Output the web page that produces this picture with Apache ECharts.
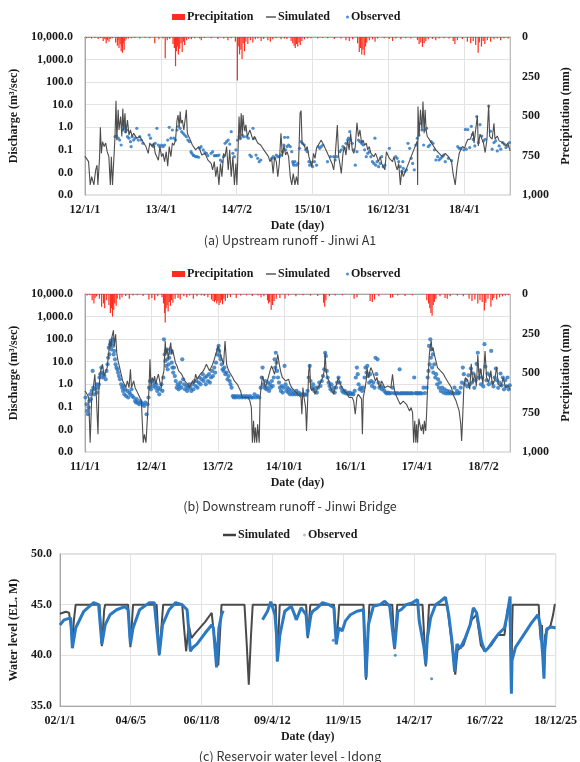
<!DOCTYPE html>
<html><head><meta charset="utf-8">
<script src="https://cdn.jsdelivr.net/npm/echarts@6/dist/echarts.min.js"></script>
<style>html,body{margin:0;padding:0;background:#fff}#c{width:580px;height:762px}</style>
</head><body><div id="c"></div>
<script>
// ---------- Panel (a) Upstream runoff - Jinwi A1 (x = days since 2012-01-01) ----------
const xLabelsA = ['12/1/1','13/4/1','14/7/2','15/10/1','16/12/31','18/4/1'];
const simA = [[0,0.053],[22,0.03],[32,0.0028],[41,0.0065],[54,0.0028],[65,0.013],[73,0.021],[78,0.0028],[88,0.042],[93,1.0],[99,0.07],[106,0.23],[116,0.14],[125,0.2],[134,0.083],[144,0.05],[153,0.0028],[159,0.05],[166,0.0028],[175,0.0028],[181,0.39],[187,15],[192,0.27],[200,5.9],[205,0.76],[215,3.0],[222,0.39],[228,6.7],[233,0.76],[241,4.2],[246,0.54],[256,2.1],[265,0.45],[274,0.76],[284,0.39],[293,0.54],[312,0.33],[330,0.39],[349,0.23],[367,0.14],[381,0.07],[390,0.2],[405,0.14],[414,0.2],[423,0.07],[433,0.083],[442,0.035],[451,0.14],[461,0.05],[470,0.07],[479,0.03],[489,0.083],[498,0.019],[507,0.14],[517,0.05],[526,0.2],[535,0.16],[545,0.27],[554,2.1],[560,3.5],[567,1.07],[573,5.0],[578,1.5],[586,2.1],[595,0.76],[610,5.9],[616,0.54],[629,0.33],[647,0.16],[666,0.1],[684,0.14],[703,0.059],[722,0.07],[740,0.035],[759,0.025],[768,0.013],[778,0.03],[787,0.0065],[796,0.018],[806,0.0028],[815,0.025],[824,0.0065],[834,0.07],[843,0.05],[852,0.14],[862,0.013],[871,0.1],[880,0.0065],[890,0.05],[899,0.0028],[908,0.025],[914,0.0028],[921,0.1],[927,3.0],[933,0.27],[940,4.2],[946,0.39],[951,3.5],[959,0.76],[968,1.27],[977,0.39],[992,0.76],[1011,0.27],[1020,0.39],[1039,0.2],[1058,0.16],[1076,0.1],[1104,0.05],[1113,0.03],[1123,0.042],[1132,0.009],[1141,0.05],[1151,0.03],[1160,0.0065],[1169,0.025],[1179,0.54],[1188,0.05],[1197,0.16],[1207,0.059],[1216,0.083],[1225,0.05],[1235,0.0065],[1244,0.0028],[1253,0.009],[1263,0.0028],[1272,0.0065],[1281,0.0028],[1287,0.0028],[1294,4.2],[1300,5.5],[1306,0.2],[1319,0.16],[1328,0.1],[1337,0.14],[1347,0.05],[1356,0.03],[1365,0.018],[1375,0.07],[1384,0.042],[1393,0.12],[1403,0.16],[1421,0.27],[1440,0.14],[1459,0.07],[1477,0.035],[1486,0.025],[1496,0.013],[1505,0.05],[1518,1.27],[1526,0.05],[1533,0.025],[1542,0.009],[1552,0.07],[1561,0.14],[1570,0.059],[1580,0.27],[1589,0.1],[1598,0.54],[1608,0.1],[1617,0.07],[1626,0.14],[1636,1.6],[1645,0.39],[1654,0.76],[1664,0.2],[1673,0.27],[1682,0.16],[1692,0.2],[1701,0.1],[1710,0.14],[1720,0.07],[1729,0.083],[1738,0.05],[1748,0.07],[1757,0.059],[1766,0.03],[1776,0.05],[1785,0.025],[1794,0.03],[1804,0.013],[1813,0.083],[1822,0.059],[1831,0.042],[1850,0.03],[1859,0.05],[1869,0.021],[1878,0.013],[1887,0.025],[1897,0.0028],[1906,0.013],[1915,0.0065],[1925,0.0055],[1999,0.25],[2001,0.0028],[2003,8.3],[2010,0.39],[2018,5.9],[2027,0.76],[2033,13.8],[2040,0.54],[2046,5.9],[2052,0.76],[2059,0.39],[2074,0.27],[2093,0.16],[2111,0.1],[2130,0.07],[2149,0.05],[2167,0.07],[2186,0.05],[2205,0.03],[2214,0.009],[2227,0.0028],[2238,0.018],[2251,0.07],[2270,0.14],[2283,0.12],[2293,0.2],[2303,0.29],[2318,0.3],[2335,0.67],[2340,0.2],[2360,3.2],[2366,0.15],[2376,0.5],[2387,0.41],[2397,0.2],[2407,0.076],[2418,0.3],[2428,9.7],[2434,0.4],[2449,0.3],[2460,1.5],[2466,0.3],[2480,0.41],[2491,0.25],[2501,0.3],[2512,0.21],[2522,0.25],[2532,0.15],[2543,0.2],[2557,0.09]];
const obsA = [[181,0.385],[190,0.42],[200,0.33],[209,0.27],[218,0.164],[228,0.76],[233,1.27],[237,0.9],[243,0.64],[246,1.07],[252,0.76],[256,0.385],[265,0.33],[274,0.23],[278,0.139],[284,0.385],[293,0.27],[302,0.33],[312,0.9],[321,0.27],[330,0.385],[339,0.27],[349,0.195],[386,0.45],[395,0.33],[405,0.164],[414,0.139],[423,0.195],[433,0.9],[442,0.164],[451,0.139],[461,0.164],[470,0.139],[479,0.164],[498,0.27],[507,1.0],[517,0.33],[526,0.76],[535,0.33],[545,0.27],[554,0.76],[563,1.07],[573,0.9],[582,0.64],[591,0.54],[600,0.45],[610,0.385],[619,0.27],[629,0.23],[638,0.083],[643,0.07],[651,0.059],[656,0.055],[666,0.05],[675,0.05],[684,0.047],[690,0.117],[699,0.139],[712,0.099],[722,0.075],[731,0.07],[740,0.055],[759,0.07],[768,0.083],[778,0.055],[787,0.055],[796,0.055],[806,0.059],[815,0.0355],[824,0.03],[834,0.05],[843,0.195],[852,0.23],[862,0.27],[871,0.18],[880,0.64],[890,0.07],[899,0.05],[908,0.099],[918,0.27],[927,0.385],[936,0.33],[946,0.45],[955,0.385],[964,0.76],[973,0.385],[983,0.33],[992,0.059],[1001,0.05],[1011,0.9],[1020,0.33],[1029,0.059],[1039,0.042],[1048,0.03],[1058,0.0355],[1123,0.042],[1132,0.05],[1141,0.042],[1151,0.059],[1160,0.05],[1169,0.05],[1179,0.059],[1188,0.083],[1197,0.164],[1201,0.36],[1207,0.1],[1216,0.14],[1220,0.36],[1225,0.164],[1235,0.14],[1244,0.083],[1250,0.03],[1253,0.025],[1257,0.021],[1263,0.03],[1272,0.021],[1281,0.025],[1291,0.117],[1300,0.23],[1309,0.195],[1319,0.164],[1328,0.1],[1337,0.083],[1347,0.03],[1352,0.021],[1361,0.027],[1369,0.018],[1380,0.03],[1393,0.021],[1403,0.14],[1412,0.117],[1421,0.14],[1431,0.164],[1459,0.03],[1477,0.05],[1496,0.05],[1505,0.0355],[1514,0.05],[1533,0.083],[1542,0.1],[1552,0.14],[1561,0.117],[1570,0.195],[1580,0.27],[1585,0.33],[1593,0.64],[1598,0.27],[1608,0.195],[1617,0.1],[1626,0.021],[1636,0.083],[1645,0.27],[1654,0.23],[1664,0.195],[1673,0.164],[1682,0.1],[1692,0.05],[1701,0.07],[1710,0.083],[1720,0.05],[1729,0.03],[1738,0.025],[1744,0.33],[1749,0.021],[1757,0.03],[1766,0.018],[1776,0.025],[1785,0.05],[1794,0.018],[1804,0.021],[1831,0.117],[1869,0.05],[1878,0.042],[1887,0.03],[1897,0.018],[1906,0.011],[1912,0.03],[1915,0.015],[1925,0.011],[1934,0.013],[1943,0.195],[1953,0.117],[1962,0.042],[1971,0.025],[1981,0.013],[1990,0.164],[1999,0.33],[2009,0.45],[2018,1.5],[2027,0.76],[2037,0.164],[2046,0.76],[2055,0.9],[2065,0.14],[2074,0.164],[2083,0.23],[2093,0.195],[2102,0.1],[2111,0.0355],[2121,0.05],[2130,0.0355],[2139,0.042],[2149,0.05],[2158,0.059],[2167,0.03],[2186,0.042],[2205,0.033],[2242,0.14],[2251,0.117],[2260,0.117],[2279,0.1],[2288,0.8],[2293,0.107],[2303,0.79],[2314,0.126],[2324,1.1],[2330,0.48],[2335,0.29],[2345,0.15],[2356,3.0],[2366,0.21],[2376,1.3],[2387,0.41],[2397,0.25],[2407,0.29],[2428,8.7],[2439,0.67],[2449,0.107],[2460,0.21],[2470,0.25],[2480,0.09],[2491,0.15],[2501,0.107],[2512,0.21],[2522,0.18],[2532,0.126],[2543,0.15],[2553,0.21]];
const precipA = [[10,8],[25,5],[40,10],[60,6],[80,12],[95,7],[110,25],[120,15],[128,40],[135,20],[145,30],[152,12],[165,8],[185,35],[195,55],[200,20],[205,70],[212,45],[218,90],[222,60],[226,100],[230,40],[236,80],[240,25],[248,15],[262,10],[280,8],[300,6],[330,10],[360,5],[390,8],[420,40],[445,15],[470,10],[483,135],[495,20],[510,12],[530,45],[538,70],[545,185],[550,90],[556,60],[562,110],[570,75],[578,40],[585,95],[592,30],[600,50],[612,20],[625,12],[640,15],[660,8],[690,10],[700,20],[720,6],[760,8],[800,12],[835,10],[860,20],[880,8],[905,30],[917,275],[922,60],[930,110],[938,80],[945,140],[952,40],[960,90],[968,30],[980,45],[995,20],[1010,35],[1025,15],[1040,10],[1060,25],[1075,12],[1100,20],[1115,30],[1130,15],[1150,8],[1180,15],[1200,10],[1215,12],[1240,25],[1250,40],[1258,55],[1265,70],[1272,45],[1280,60],[1288,35],[1295,50],[1305,25],[1320,15],[1340,10],[1360,8],[1400,10],[1430,6],[1460,8],[1500,12],[1540,10],[1570,20],[1590,25],[1610,15],[1640,40],[1650,95],[1658,70],[1665,110],[1672,80],[1680,115],[1688,60],[1695,35],[1710,20],[1730,15],[1745,30],[1760,10],[1800,8],[1830,12],[1850,25],[1870,10],[1900,15],[1930,8],[1960,10],[2000,20],[2010,45],[2020,35],[2030,63],[2040,40],[2050,25],[2065,15],[2090,12],[2110,20],[2130,10],[2160,8],[2190,10],[2215,25],[2225,45],[2240,20],[2270,12],[2300,30],[2320,40],[2335,25],[2350,50],[2365,100],[2372,35],[2385,60],[2395,25],[2405,45],[2420,20],[2440,30],[2460,15],[2480,10],[2500,20],[2520,8],[2545,10]];

// ---------- Panel (b) Downstream runoff - Jinwi Bridge (x = days since 2011-01-01) ----------
const xLabelsB = ['11/1/1','12/4/1','13/7/2','14/10/1','16/1/1','17/4/1','18/7/2'];
const simB = [[0,0.51],[15,0.36],[26,0.26],[36,0.0026],[47,0.26],[58,0.71],[68,2.8],[79,0.26],[90,0.0061],[96,0.51],[104,2.8],[111,4.6],[121,7.7],[132,2.3],[143,2.8],[153,5.5],[164,25],[170,83],[179,42],[185,116],[196,245],[202,50],[211,163],[220,21],[228,10.8],[239,5.5],[249,2.8],[260,1.4],[271,1.0],[281,0.71],[292,1.4],[303,0.71],[313,4.6],[320,0.71],[335,1.4],[345,0.71],[356,0.51],[367,0.36],[377,0.26],[388,0.18],[394,0.024],[401,0.0026],[409,0.0061],[420,0.0026],[430,0.0026],[441,0.71],[447,12.8],[454,0.71],[462,2.0],[473,1.4],[479,2.3],[488,1.0],[494,1.66],[505,2.8],[516,1.19],[526,0.71],[533,2.0],[543,3.9],[552,83],[558,21],[565,42],[573,12.8],[580,30],[590,70],[597,21],[603,35],[612,18],[622,9.1],[633,6.5],[644,3.9],[654,4.6],[665,2.8],[675,2.0],[686,1.4],[697,1.4],[708,1.0],[718,0.71],[729,0.71],[739,1.4],[750,1.0],[761,2.8],[771,1.66],[782,2.0],[793,2.8],[803,3.3],[814,3.9],[825,5.5],[835,7.7],[846,6.5],[857,3.9],[867,5.5],[878,7.7],[889,12.8],[899,21],[910,35],[916,50],[925,42],[931,21],[942,12.8],[953,7.7],[963,83],[974,7.7],[984,4.6],[995,3.3],[1006,2.8],[1016,2.0],[1027,1.4],[1038,1.19],[1048,1.0],[1059,0.71],[1070,0.51],[1080,0.26],[1102,0.26],[1123,0.26],[1134,0.18],[1144,0.093],[1151,0.0026],[1159,0.024],[1166,0.0026],[1172,0.012],[1181,0.0026],[1187,0.017],[1198,0.0026],[1204,0.26],[1213,1.0],[1221,2.3],[1230,1.4],[1240,0.71],[1251,1.19],[1261,1.0],[1272,3.9],[1283,6.5],[1293,5.5],[1304,2.8],[1315,7.7],[1325,21],[1336,7.7],[1347,3.3],[1357,2.0],[1368,2.3],[1379,1.4],[1389,1.19],[1400,1.66],[1410,1.0],[1421,0.71],[1432,0.6],[1442,0.51],[1453,0.43],[1464,0.36],[1474,0.3],[1485,0.26],[1491,0.047],[1498,0.71],[1506,0.26],[1517,0.093],[1523,0.0086],[1530,0.13],[1538,3.9],[1545,7.7],[1551,0.71],[1560,0.51],[1570,0.71],[1581,0.36],[1592,0.51],[1602,0.71],[1613,1.0],[1624,1.4],[1634,2.0],[1645,3.9],[1651,25],[1658,3.9],[1666,2.0],[1677,1.4],[1688,0.71],[1698,0.51],[1709,0.36],[1720,0.71],[1730,1.0],[1741,2.0],[1751,1.19],[1762,0.84],[1773,0.71],[1783,0.51],[1794,0.43],[1805,0.36],[1815,0.26],[1826,0.3],[1837,0.26],[1847,0.18],[1858,0.047],[1869,0.26],[1879,0.36],[1890,0.36],[1901,0.22],[1907,0.0061],[1913,0.26],[1922,0.51],[1933,1.4],[1939,5.5],[1948,2.0],[1956,3.3],[1965,5.5],[1975,3.9],[1986,2.3],[1997,1.4],[2007,2.0],[2018,1.0],[2028,0.71],[2039,1.4],[2050,1.0],[2060,0.71],[2071,0.6],[2082,0.84],[2092,0.71],[2103,0.71],[2114,2.8],[2124,0.71],[2135,0.36],[2146,0.3],[2156,0.18],[2167,0.13],[2178,0.11],[2188,0.18],[2199,0.155],[2210,0.13],[2220,0.093],[2231,0.066],[2242,0.093],[2252,0.055],[2259,0.0026],[2267,0.024],[2274,0.0026],[2280,0.017],[2286,0.0026],[2295,0.03],[2306,0.012],[2312,0.0086],[2320,0.017],[2327,0.0061],[2333,0.024],[2342,0.0086],[2348,0.047],[2355,0.71],[2361,3.9],[2367,21],[2374,50],[2380,83],[2386,30],[2393,42],[2401,21],[2412,10.8],[2423,5.5],[2433,4.6],[2444,3.9],[2455,3.3],[2465,2.8],[2476,2.0],[2487,1.66],[2497,1.19],[2508,1.0],[2519,0.71],[2529,0.36],[2540,0.26],[2551,0.18],[2561,0.11],[2572,0.066],[2583,0.017],[2589,0.0031],[2597,0.047],[2604,0.71],[2615,2.0],[2630,1.5],[2645,0.6],[2655,8],[2665,1.2],[2680,3],[2690,0.8],[2700,20],[2710,1.5],[2720,5],[2735,1.0],[2750,30],[2760,2],[2775,1.2],[2790,4],[2800,0.9],[2815,1.5],[2830,6],[2840,1.0],[2860,0.8],[2875,2],[2890,0.7],[2905,0.9],[2922,0.6]];
const obsB = [[4,0.26],[11,0.13],[15,0.066],[21,0.047],[26,0.093],[30,0.18],[36,0.36],[40,0.22],[47,0.51],[53,3.9],[58,0.71],[64,0.36],[70,0.6],[79,1.0],[83,0.43],[89,0.71],[96,1.0],[100,2.0],[106,2.8],[113,5.5],[117,3.3],[121,2.0],[128,2.8],[134,2.3],[143,1.66],[149,3.9],[156,7.7],[160,15],[164,42],[168,21],[173,59],[177,83],[181,35],[185,70],[190,98],[194,50],[198,21],[202,30],[207,12.8],[211,7.7],[217,5.5],[224,4.6],[228,3.3],[234,2.3],[241,1.66],[249,1.0],[256,0.71],[262,0.51],[266,0.84],[271,0.36],[277,0.6],[283,0.3],[292,0.51],[298,0.26],[305,0.43],[313,0.36],[320,0.6],[326,0.3],[335,0.26],[345,0.18],[352,0.155],[356,0.22],[364,0.155],[373,0.13],[381,0.18],[388,0.155],[398,0.13],[407,0.11],[415,0.155],[424,0.047],[430,0.13],[437,0.26],[441,0.71],[447,1.4],[454,0.6],[462,1.4],[469,0.84],[475,1.19],[484,0.71],[490,1.0],[497,0.51],[505,0.71],[511,0.36],[518,0.6],[526,1.0],[533,0.51],[539,2.0],[543,98],[548,21],[552,10.8],[556,30],[560,6.5],[565,12.8],[569,4.6],[575,7.7],[580,15],[584,35],[590,25],[597,9.1],[601,5.5],[607,3.3],[612,5.5],[618,2.3],[624,1.4],[631,0.71],[637,1.0],[644,0.6],[650,0.84],[656,1.19],[663,0.71],[669,12.8],[675,1.66],[682,1.0],[688,0.6],[697,0.84],[703,0.51],[709,0.71],[718,1.0],[724,0.71],[731,0.51],[739,1.0],[746,0.6],[752,1.4],[761,0.84],[767,1.4],[774,0.71],[782,1.19],[788,2.0],[795,1.0],[803,1.66],[810,2.8],[816,1.4],[825,2.0],[831,1.0],[838,2.3],[846,1.4],[853,2.8],[859,1.19],[867,2.0],[874,3.9],[880,2.3],[889,5.5],[895,3.3],[901,9.1],[908,21],[914,35],[919,50],[923,30],[927,18],[933,12.8],[940,7.7],[946,4.6],[953,3.9],[959,5.5],[965,2.8],[974,3.3],[980,1.66],[987,2.3],[995,1.4],[1001,1.0],[1008,0.71],[1016,0.3],[1023,0.26],[1029,0.3],[1038,0.26],[1048,0.3],[1059,0.26],[1070,0.3],[1080,0.26],[1091,0.3],[1102,0.26],[1112,0.3],[1123,0.26],[1134,0.3],[1144,0.26],[1155,0.26],[1166,0.36],[1176,0.26],[1187,0.3],[1198,0.26],[1208,0.71],[1215,2.0],[1221,5.5],[1227,1.0],[1234,0.71],[1240,1.4],[1247,0.6],[1253,0.71],[1259,1.19],[1266,0.51],[1272,1.0],[1278,0.71],[1285,1.4],[1291,0.84],[1298,2.0],[1304,12.8],[1308,5.5],[1312,25],[1317,9.1],[1321,3.9],[1327,2.0],[1334,1.19],[1340,0.71],[1347,0.51],[1353,0.84],[1359,0.43],[1366,0.71],[1372,6.5],[1379,1.0],[1385,0.51],[1391,0.71],[1398,0.43],[1404,0.6],[1410,0.36],[1419,0.51],[1428,0.36],[1436,0.43],[1445,0.36],[1453,0.51],[1462,0.36],[1470,0.43],[1479,0.36],[1487,0.34],[1496,0.36],[1504,0.34],[1513,0.36],[1521,0.34],[1530,0.51],[1538,2.0],[1545,6.5],[1551,1.4],[1560,0.71],[1568,1.0],[1577,0.51],[1585,0.71],[1594,0.43],[1602,0.71],[1611,1.19],[1619,0.84],[1628,1.4],[1636,2.3],[1645,4.6],[1651,25],[1656,18],[1662,3.9],[1668,2.0],[1675,1.19],[1681,0.84],[1688,0.6],[1694,1.0],[1700,0.51],[1709,0.71],[1717,0.43],[1726,0.71],[1734,1.19],[1743,2.0],[1751,1.19],[1760,0.71],[1768,0.51],[1777,0.43],[1786,0.51],[1794,0.39],[1803,0.43],[1811,0.36],[1820,0.43],[1828,0.36],[1837,0.39],[1845,0.36],[1854,0.51],[1862,2.0],[1869,5.5],[1875,2.8],[1881,1.0],[1888,0.6],[1896,0.71],[1905,0.51],[1913,0.71],[1922,2.0],[1928,5.5],[1935,3.3],[1941,6.5],[1948,2.3],[1954,1.19],[1960,2.8],[1967,1.4],[1973,0.84],[1982,1.19],[1990,0.71],[1997,15],[2003,2.8],[2011,12.8],[2018,1.19],[2024,0.71],[2033,0.84],[2041,0.6],[2050,0.71],[2058,0.51],[2067,0.43],[2075,0.39],[2084,0.43],[2092,0.39],[2103,0.41],[2114,0.71],[2124,0.41],[2135,0.39],[2146,0.41],[2156,0.39],[2163,4.6],[2169,0.39],[2178,0.41],[2188,0.39],[2199,0.41],[2210,0.39],[2220,0.41],[2231,0.39],[2242,0.41],[2252,0.39],[2263,2.0],[2271,0.41],[2280,0.39],[2288,0.41],[2297,0.39],[2306,0.41],[2316,0.39],[2327,0.71],[2337,0.41],[2348,0.71],[2355,2.0],[2361,3.9],[2365,50],[2369,7.7],[2374,98],[2378,15],[2382,35],[2386,5.5],[2391,21],[2395,3.3],[2401,7.7],[2408,2.0],[2414,2.8],[2421,1.0],[2427,1.66],[2433,0.71],[2440,1.19],[2446,0.51],[2455,0.71],[2463,0.43],[2472,0.6],[2480,0.39],[2489,0.51],[2497,0.39],[2506,0.47],[2514,0.39],[2523,0.43],[2531,0.39],[2540,0.71],[2548,0.39],[2557,0.51],[2565,0.39],[2574,0.43],[2583,0.71],[2591,1.19],[2597,5.5],[2604,2.8],[2610,1.0],[2620,1.5],[2628,0.8],[2636,2.5],[2644,1.0],[2652,5],[2660,1.2],[2668,3],[2676,0.7],[2684,1.5],[2692,8],[2700,25],[2706,2],[2714,4],[2722,1.0],[2730,2],[2738,0.8],[2746,60],[2752,6],[2760,1.5],[2768,3],[2776,1.0],[2784,2.5],[2792,30],[2800,1.2],[2808,0.8],[2816,2],[2824,5],[2832,1.5],[2840,0.7],[2848,1.2],[2856,3],[2864,0.9],[2872,2],[2880,0.6],[2888,1.5],[2896,0.8],[2904,2],[2912,0.6],[2920,0.9]];
const precipB = [[15,10],[35,8],[50,40],[62,60],[70,25],[80,15],[100,30],[115,80],[128,60],[136,90],[150,40],[165,70],[175,120],[182,90],[190,143],[198,100],[205,60],[215,75],[222,30],[240,35],[255,20],[280,12],[305,30],[330,10],[360,8],[400,12],[440,35],[460,25],[480,40],[500,15],[530,20],[540,60],[548,120],[552,180],[558,90],[565,70],[572,110],[580,50],[588,75],[596,40],[605,55],[620,30],[640,25],[655,35],[680,15],[700,20],[720,10],[745,30],[770,15],[800,10],[820,12],[845,20],[870,35],[880,45],[890,50],[898,40],[906,60],[914,45],[922,70],[930,55],[938,40],[946,65],[955,30],[965,45],[980,25],[1000,20],[1040,25],[1070,10],[1110,8],[1150,12],[1190,10],[1210,20],[1230,15],[1255,40],[1262,60],[1270,50],[1280,100],[1290,70],[1300,45],[1315,30],[1340,25],[1375,30],[1400,10],[1450,15],[1500,8],[1550,10],[1600,12],[1640,55],[1648,80],[1656,40],[1680,15],[1720,10],[1770,8],[1850,30],[1870,20],[1960,45],[1975,50],[1990,35],[2020,15],[2100,25],[2115,20],[2150,10],[2200,12],[2250,8],[2350,40],[2362,60],[2370,90],[2378,120],[2386,137],[2394,70],[2402,50],[2412,30],[2440,15],[2475,25],[2490,30],[2510,15],[2560,10],[2600,15],[2640,30],[2660,45],[2680,35],[2700,60],[2715,40],[2730,50],[2745,105],[2755,55],[2770,30],[2790,80],[2800,40],[2810,25],[2830,35],[2850,20],[2870,15],[2890,10],[2910,8]];

// ---------- Panel (c) Reservoir water level - Idong (x = days since 2002-01-01) ----------
const xLabelsC = ['02/1/1','04/6/5','06/11/8','09/4/12','11/9/15','14/2/17','16/7/22','18/12/25'];
const simC = [[0,44.1],[74,44.3],[115,44.2],[135,43],[156,41.5],[176,43.5],[197,45],[496,45],[525,40.9],[554,44.5],[566,45],[853,45],[882,40.8],[915,45],[1210,45],[1243,40.0],[1292,45],[1530,45],[1550,43],[1579,40.4],[1612,43],[1645,41.7],[1694,42.2],[1817,43.3],[1899,44.2],[1928,42],[1960,40.7],[1981,39.0],[2002,42],[2022,45],[2309,45],[2338,41],[2363,37.1],[2391,42],[2412,45],[2700,45],[2720,39.4],[2750,45],[3080,45],[3100,41.7],[3133,45],[3428,45],[3461,41.1],[3494,45],[3798,45],[3830,37.6],[3871,45],[4158,45],[4187,40.6],[4220,45],[4536,45],[4577,38.9],[4618,45],[4844,45],[4905,41],[4946,38.1],[4975,40.5],[5049,41],[5151,43.5],[5213,44],[5266,41],[5315,40.4],[5397,41],[5480,42],[5561,42],[5600,44.5],[5620,45],[5635,45],[5642,40],[5648,36.9],[5658,43],[5665,45],[5990,45],[6000,43],[6015,41.5],[6030,43],[6045,40],[6056,38.5],[6070,42],[6100,42.5],[6140,43],[6170,44],[6190,45],[6202,45]];
const obsC = [[0,43.0],[53,43.5],[135,43.7],[156,40.7],[197,42.7],[299,44.35],[422,45.2],[484,45.0],[525,41.1],[566,43.0],[627,44.0],[710,44.5],[812,44.8],[853,44.5],[882,41.1],[915,42.7],[997,44.5],[1120,45.2],[1181,45.2],[1243,40.1],[1284,43.0],[1366,44.5],[1448,45.2],[1530,45.0],[1591,44.5],[1633,40.4],[1653,40.7],[1714,41.1],[1817,42.2],[1899,43.0],[1920,42.7],[1960,38.8],[1989,42.7],[2022,44.0],[2043,44.4],[2200,'-'],[2535,43.5],[2597,44.35],[2638,45.3],[2690,44.0],[2710,42.0],[2720,39.4],[2752,42.0],[2813,44.35],[2895,44.84],[2936,44.0],[2957,43.5],[3018,44.7],[3080,44.0],[3100,41.9],[3141,44.0],[3162,44.35],[3223,44.7],[3285,45.2],[3367,45.0],[3428,44.7],[3457,41.1],[3490,42.7],[3531,42.4],[3572,43.4],[3634,44.0],[3716,44.35],[3798,44.5],[3830,37.8],[3859,43.0],[3921,44.84],[4003,45.0],[4064,45.34],[4126,44.84],[4187,40.7],[4228,44.35],[4269,44.5],[4331,45.0],[4413,45.2],[4474,45.5],[4495,43.4],[4556,40.7],[4577,39.1],[4597,41.7],[4638,43.7],[4700,45.0],[4762,45.34],[4823,45.73],[4864,44.0],[4905,41.4],[4938,38.4],[4967,41.1],[5008,40.7],[5070,41.7],[5131,43.0],[5172,44.7],[5213,44.2],[5274,41.4],[5315,40.4],[5356,40.7],[5418,41.4],[5479,42.05],[5561,42.7],[5590,43.8],[5615,45.0],[5632,45.8],[5640,40],[5648,36.2],[5656,39.5],[5700,40.8],[5800,42.0],[5900,43.2],[5980,44.0],[6010,43],[6040,40],[6056,37.7],[6065,40.5],[6090,42.6],[6150,42.8],[6202,42.7]];
const obsCx = [[4650,37.7],[4195,40.0],[3420,41.5]];

// ---------- styles & helpers ----------
const SERIF = '"Liberation Serif","Times New Roman",serif';
const SANS = '"Noto Sans CJK KR","Noto Sans",sans-serif';
const TXT = {fontFamily: SERIF, fontWeight: 'bold', fontSize: 12, color: '#1a1a1a'};
const C_PREC = '#ff2d1f', C_SIM = '#4d4d4d', C_OBS = '#2472bf';

function dateFmt(labels, step) {
  return function (v) {
    const i = Math.round(v / step);
    return (Math.abs(v - i * step) < 0.6 && i < labels.length) ? labels[i] : '';
  };
}
function qFmt(v) {
  const n = Number(Number(v).toPrecision(6));
  return n.toLocaleString('en-US', {minimumFractionDigits: 1, maximumFractionDigits: 1});
}
function dateAxis(g, max, step, labels) {
  return {
    type: 'value', gridIndex: g, min: 0, max: max, interval: step,
    axisLine: {show: true, lineStyle: {color: '#a6a6a6'}}, axisTick: {show: false},
    splitLine: {show: true, lineStyle: {color: '#e3e3e3'}},
    axisLabel: Object.assign({margin: 9, formatter: dateFmt(labels, step)}, TXT),
    name: 'Date (day)', nameLocation: 'middle', nameGap: 25, nameTextStyle: TXT
  };
}
function qAxis(g) {
  return {
    type: 'log', logBase: 10, gridIndex: g, min: 0.001, max: 10000, interval: 1, splitNumber: 7,
    axisLine: {show: true, lineStyle: {color: '#a6a6a6'}}, axisTick: {show: false},
    splitLine: {show: true, lineStyle: {color: '#e3e3e3'}}, minorSplitLine: {show: false},
    axisLabel: Object.assign({margin: 12, formatter: qFmt}, TXT),
    name: 'Discharge (m\u00b3/sec)', nameLocation: 'middle', nameGap: 58, nameRotate: 90, nameTextStyle: TXT
  };
}
function pAxis(g) {
  return {
    type: 'value', gridIndex: g, position: 'right', inverse: true, min: 0, max: 1000, interval: 250,
    axisLine: {show: true, lineStyle: {color: '#bfbfbf'}}, axisTick: {show: false}, splitLine: {show: false},
    axisLabel: Object.assign({margin: 12, formatter: v => Number(v).toLocaleString('en-US')}, TXT),
    name: 'Precipitation (mm)', nameLocation: 'middle', nameGap: 48, nameRotate: 90, nameTextStyle: TXT
  };
}
function legendItem(name, left, top, w, h, icon, color) {
  return {
    left: left, top: top, padding: 0, itemWidth: w, itemHeight: h, itemGap: 0, selectedMode: false,
    data: [{name: name, icon: icon, itemStyle: {color: color}}],
    textStyle: Object.assign({padding: [0, 0, 0, -3]}, TXT)
  };
}

const option = {
  animation: false,
  backgroundColor: '#ffffff',
  title: [
    {text: '(a) Upstream runoff - Jinwi A1', left: 'center', top: 234, padding: 0,
     textStyle: {fontFamily: SANS, fontWeight: 'normal', fontSize: 12.5, color: '#333'}},
    {text: '(b) Downstream runoff - Jinwi Bridge', left: 'center', top: 500, padding: 0,
     textStyle: {fontFamily: SANS, fontWeight: 'normal', fontSize: 12.5, color: '#333'}},
    {text: '(c) Reservoir water level - Idong', left: 'center', top: 750, padding: 0,
     textStyle: {fontFamily: SANS, fontWeight: 'normal', fontSize: 12.5, color: '#333'}}
  ],
  legend: [
    legendItem('Precipitation', 172, 11, 13, 6, 'rect', C_PREC),
    legendItem('Simulated', 266, 11, 10, 1.5, 'rect', '#595959'),
    legendItem('Observed', 346, 11, 3, 3, 'circle', C_OBS),
    legendItem('Precipitation', 172, 268, 13, 6, 'rect', C_PREC),
    legendItem('Simulated', 266, 268, 10, 1.5, 'rect', '#595959'),
    legendItem('Observed', 346, 268, 3, 3, 'circle', C_OBS),
    legendItem('Simulated', 223, 529, 13, 2.5, 'rect', '#404040'),
    legendItem('Observed', 303, 529, 3, 3, 'circle', '#8fb6da')
  ],
  grid: [
    {left: 66, top: 37, width: 457, height: 158, show: true, borderColor: '#c4c4c4', borderWidth: 1},
    {left: 66, top: 294, width: 457, height: 158, show: true, borderColor: '#c4c4c4', borderWidth: 1},
    {left: 54, top: 554, width: 504, height: 152, show: true, borderColor: '#c4c4c4', borderWidth: 1}
  ],
  xAxis: [
    dateAxis(0, 2557, 456.5, xLabelsA),
    dateAxis(1, 2922, 456.5, xLabelsB),
    dateAxis(2, 6202, 886, xLabelsC)
  ],
  yAxis: [
    qAxis(0), pAxis(0), qAxis(1), pAxis(1),
    {
      type: 'value', gridIndex: 2, min: 35, max: 50, interval: 5,
      axisLine: {show: true, lineStyle: {color: '#a6a6a6'}}, axisTick: {show: false},
      splitLine: {show: true, lineStyle: {color: '#e3e3e3'}},
      axisLabel: Object.assign({margin: 8, formatter: v => Number(v).toFixed(1)}, TXT),
      name: 'Water level (EL. M)', nameLocation: 'middle', nameGap: 38, nameRotate: 90, nameTextStyle: TXT
    }
  ],
  series: [
    {name: 'Precipitation', type: 'bar', xAxisIndex: 0, yAxisIndex: 1, data: precipA, barWidth: 1.2, itemStyle: {color: C_PREC}},
    {name: 'Simulated', type: 'line', xAxisIndex: 0, yAxisIndex: 0, data: simA, showSymbol: false, lineStyle: {color: C_SIM, width: 1.1}, itemStyle: {color: C_SIM}},
    {name: 'Observed', type: 'scatter', xAxisIndex: 0, yAxisIndex: 0, data: obsA, symbolSize: 3.2, itemStyle: {color: C_OBS}},
    {name: 'Precipitation', type: 'bar', xAxisIndex: 1, yAxisIndex: 3, data: precipB, barWidth: 1.2, itemStyle: {color: C_PREC}},
    {name: 'Simulated', type: 'line', xAxisIndex: 1, yAxisIndex: 2, data: simB, showSymbol: false, lineStyle: {color: C_SIM, width: 1.1}, itemStyle: {color: C_SIM}},
    {name: 'Observed', type: 'scatter', xAxisIndex: 1, yAxisIndex: 2, data: obsB, symbolSize: 4.2, itemStyle: {color: C_OBS}},
    {name: 'Simulated', type: 'line', xAxisIndex: 2, yAxisIndex: 4, data: simC, showSymbol: false, lineStyle: {color: '#4a4a4a', width: 2}, itemStyle: {color: '#4a4a4a'}},
    {name: 'Observed', type: 'line', xAxisIndex: 2, yAxisIndex: 4, data: obsC, showSymbol: false, connectNulls: false, lineStyle: {color: '#2b79c2', width: 3}, itemStyle: {color: '#2b79c2'}},
    {name: 'Observed', type: 'scatter', xAxisIndex: 2, yAxisIndex: 4, data: obsCx, symbolSize: 3, itemStyle: {color: '#2b79c2'}}
  ]
};
const chart = echarts.init(document.getElementById('c'), null, {renderer: 'canvas'});
chart.setOption(option);
</script>
</body></html>
